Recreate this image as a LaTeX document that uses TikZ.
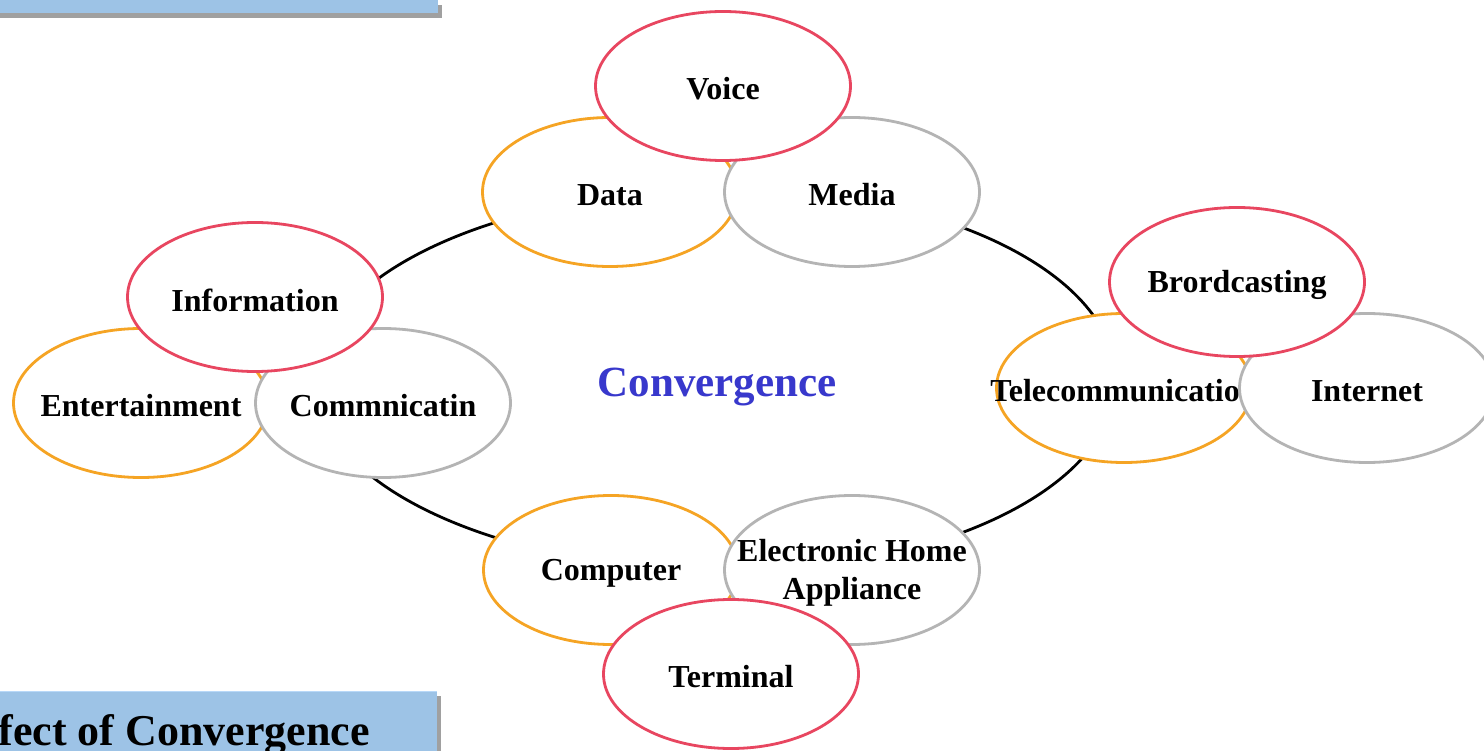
\documentclass[tikz,border=0pt]{standalone}
\usepackage{fontspec}
\setmainfont{Liberation Serif}
\usetikzlibrary{shapes.geometric}

\definecolor{bubblered}{HTML}{E84660}
\definecolor{bubbleorange}{HTML}{F5A424}
\definecolor{bubblegray}{HTML}{B4B4B4}
\definecolor{convblue}{HTML}{3838CC}
\definecolor{bannerblue}{HTML}{9DC3E6}
\definecolor{bannerline}{HTML}{B8D8F8}
\definecolor{bannershadow}{HTML}{A0A0A0}

\tikzset{
  bubble/.style={ellipse, draw, fill=white, line width=2.8pt,
    minimum width=255pt, minimum height=149pt, inner sep=0pt,
    font=\fontsize{32}{38}\selectfont\bfseries},
  redbub/.style={bubble, draw=bubblered},
  orangebub/.style={bubble, draw=bubbleorange},
  graybub/.style={bubble, draw=bubblegray}
}
\newcommand{\inbub}[1]{\makebox[0pt]{\raisebox{-3pt}[\height][\depth]{#1}}}

\begin{document}
\begin{tikzpicture}[x=1pt,y=-1pt]
  \clip (0,0) rectangle (1484,751);
  % banners
  \fill[bannershadow] (-1,5) rectangle (442,18);
  \fill[bannerblue] (-5,-10) rectangle (438,13);
  \fill[bannershadow] (437,696) rectangle (441,760);
  \fill[bannerblue] (-5,691) rectangle (437,760);
  \draw[bannerline, line width=1.5pt] (-5,691.5) -- (437,691.5);
  \node[anchor=base east, inner sep=0pt,
    font=\fontsize{44}{50}\selectfont\bfseries] (title) at (370,745)
    {fect of Convergence};
  % ring
  \coordinate (ringtop) at (730,189);
  \draw[line width=2.8pt] (ringtop)
    arc[start angle=270, end angle=90, x radius=415, y radius=191]
    arc[start angle=90, end angle=-90, x radius=386, y radius=191];
  \node[font=\fontsize{43}{50}\selectfont\bfseries, text=convblue]
    (conv) at (717,387) {Convergence};
  % top
  \node[orangebub] (data) at (610,192) {\inbub{Data}};
  \node[graybub] (media) at (852,192) {\inbub{Media}};
  \node[redbub] (voice) at (723,86) {\inbub{Voice}};
  % left
  \node[orangebub] (entertain) at (141,403) {\inbub{Entertainment}};
  \node[graybub] (commn) at (383,403) {\inbub{Commnicatin}};
  \node[redbub] (info) at (255,297) {\inbub{Information}};
  % right
  \node[orangebub] (telecom) at (1124,388) {\inbub{Telecommunication}};
  \node[graybub] (internet) at (1367,388) {\inbub{Internet}};
  \node[redbub] (broad) at (1237,282) {\inbub{Brordcasting}};
  % bottom
  \node[orangebub] (computer) at (611,570) {\inbub{Computer}};
  \node[graybub] (appliance) at (852,570)
    {\inbub{\begin{tabular}{@{}c@{}}Electronic Home\\Appliance\end{tabular}}};
  \node[redbub] (terminal) at (731,674) {\inbub{Terminal}};
\end{tikzpicture}
\end{document}
